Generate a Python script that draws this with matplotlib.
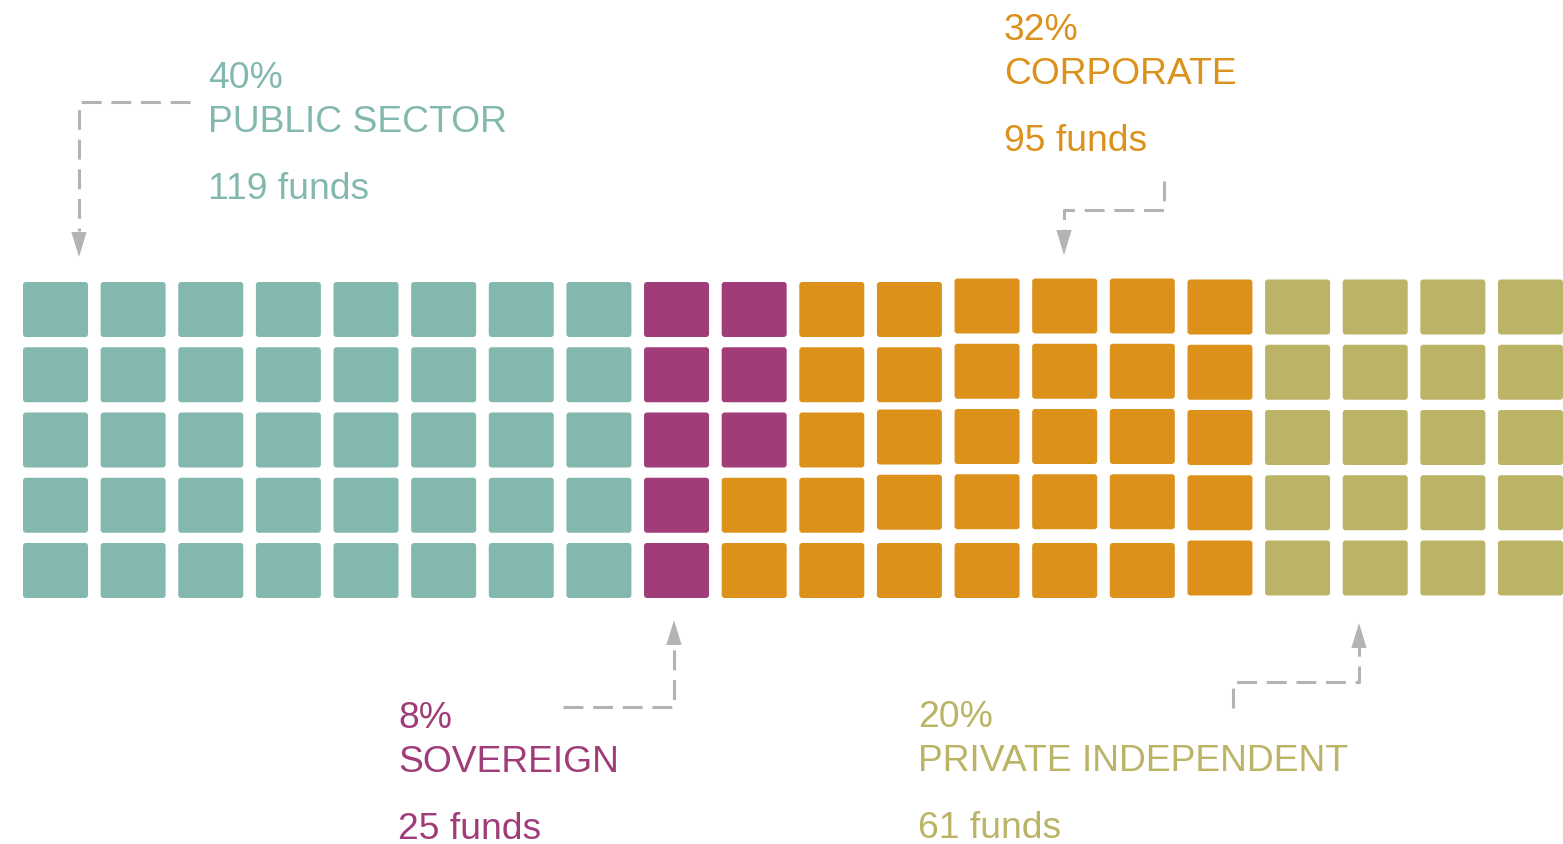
import matplotlib.pyplot as plt
from matplotlib.patches import FancyBboxPatch

plt.rcParams['font.family'] = ['Liberation Sans', 'DejaVu Sans']

# data
categories = ['PUBLIC SECTOR', 'SOVEREIGN', 'CORPORATE', 'PRIVATE INDEPENDENT']
shares = [40, 8, 32, 20]
funds = [119, 25, 95, 61]
colors = ['#83B8AF', '#A03C78', '#DC911B', '#BBB366']

# layout (pixels, figure is 1563 x 844)
W, H = 1563, 844
n_rows = 5
x0, y0 = 23, 282
pitch_x, pitch_y = 77.63, 65.25
cell_w, cell_h = 65, 55
# small nudges seen in the original grid: (col, row) -> dy
nudge = {}
for r in (2, 3):
    nudge[(11, r)] = -3
for c in (12, 13, 14):
    for r in range(4):
        nudge[(c, r)] = -3.5
for c in range(15, 20):
    for r in range(5):
        nudge[(c, r)] = -2.5

fig = plt.figure(figsize=(W / 100, H / 100), dpi=100)
ax = fig.add_axes([0, 0, 1, 1])
ax.set_xlim(0, W)
ax.set_ylim(H, 0)
ax.axis('off')

# waffle cells, filled column by column, top to bottom
cell_colors = []
for share, col in zip(shares, colors):
    cell_colors += [col] * share

for i, col in enumerate(cell_colors):
    c, r = divmod(i, n_rows)
    x = x0 + c * pitch_x
    y = y0 + r * pitch_y + nudge.get((c, r), 0)
    ax.add_patch(FancyBboxPatch((x + 3, y + 3), cell_w - 6, cell_h - 6,
                                boxstyle='round,pad=3', fc=col, ec='none'))

# labels
label_pos = [(208, 88), (398, 728), (1004, 40), (918, 727)]
fs = 26.8
for cat, share, n, col, (lx, ly) in zip(categories, shares, funds, colors, label_pos):
    ax.text(lx, ly, f'{share}%', color=col, fontsize=fs, va='baseline')
    ax.text(lx, ly + 44, cat, color=col, fontsize=fs, va='baseline')
    ax.text(lx, ly + 111, f'{n} funds', color=col, fontsize=fs, va='baseline')

# dashed leader lines with arrowheads
gray = '#B3B3B3'
leaders = [
    ([190, 79, 79], [102, 102, 231], (79, 257)),
    ([1164, 1164, 1064, 1064], [181, 210, 210, 230], (1064, 255)),
    ([563, 674, 674], [707, 707, 646], (674, 620)),
    ([1233, 1233, 1359, 1359], [708, 682, 682, 647], (1359, 623)),
]
for xs, ys, tip in leaders:
    ax.plot(xs, ys, color=gray, lw=2.2, dashes=(6.5, 3.2), solid_capstyle='butt')
    ax.annotate('', xy=tip, xytext=(xs[-1], ys[-1]),
                arrowprops=dict(arrowstyle='-|>,head_length=1.8,head_width=0.55',
                                color=gray, lw=0, shrinkA=0, shrinkB=0))

fig.savefig('out.png', dpi=100, facecolor='white')
